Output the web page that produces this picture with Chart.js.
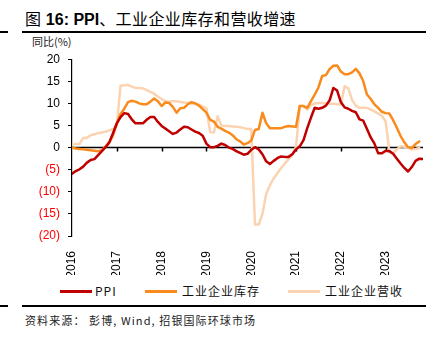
<!DOCTYPE html>
<html>
<head>
<meta charset="utf-8">
<script src="https://cdn.jsdelivr.net/npm/chart.js@4.4.0/dist/chart.umd.min.js"></script>
<style>
 body { margin: 0; width: 443px; height: 345px; background: #fff; position: relative; overflow: hidden;
  font-family: "Liberation Sans", "Noto Sans CJK SC", sans-serif; }
 .title { position: absolute; left: 25px; top: 6px; font-size: 16px; color: #000; white-space: nowrap; }
 .title b { font-family: "Liberation Sans", sans-serif; font-weight: bold; }
 .title span { font-family: "Noto Sans CJK SC", sans-serif; font-weight: 400; letter-spacing: 0.4px; }
 .rule { position: absolute; height: 2px; background: #000; }
 .unit { position: absolute; left: 32px; top: 33px; font-size: 11px; color: #222; font-family: "Noto Sans CJK SC", sans-serif; }
 .legend { position: absolute; top: 282px; left: 0; height: 18px; font-size: 12px; color: #111;
  font-family: "Noto Sans CJK SC", serif; letter-spacing: 1px; }
 .legend .item { position: absolute; top: 0; white-space: nowrap; }
 .legend i { position: absolute; top: 8px; width: 32px; height: 3px; }
 .legend em { position: absolute; top: 0; font-style: normal; }
 .source { position: absolute; left: 25px; top: 312px; font-size: 11px; color: #222; white-space: nowrap;
  font-family: "Noto Sans CJK SC", sans-serif; letter-spacing: 1.1px; }
 #wrap { position: absolute; left: 0; top: 44px; width: 443px; height: 231px; }
</style>
</head>
<body>
<div class="title"><span>图</span> <b>16: PPI</b><span>、工业企业库存和营收增速</span></div>
<div class="rule" style="left:22px;width:404px;top:31px"></div>
<div class="rule" style="left:0;width:8px;top:31px"></div>
<div class="unit">同比(%)</div>
<div id="wrap"><canvas id="chart"></canvas></div>
<div class="legend">
 <div class="item" style="left:60px"><i style="background:#C00000"></i><em style="left:35px">PPI</em></div>
 <div class="item" style="left:145px"><i style="background:#F98A1C"></i><em style="left:37px">工业企业库存</em></div>
 <div class="item" style="left:288px"><i style="background:#FBD3B1"></i><em style="left:37px">工业企业营收</em></div>
</div>
<div class="rule" style="left:22px;width:404px;top:305px"></div>
<div class="rule" style="left:0;width:8px;top:305px"></div>
<div class="source">资料来源： 彭博, Wind, 招银国际环球市场</div>

<script>
// month-end points, Dec 2015 .. Oct 2023
var startYear = 2015, startMonth = 12, monthCount = 95;

var ppi = [
 -5.9,
 -5.3, -4.9, -4.3, -3.4, -2.8, -2.6, -1.7, -0.8, 0.1, 1.2, 3.3, 5.5,
 6.9, 7.8, 7.6, 6.4, 5.5, 5.5, 5.5, 6.3, 6.9, 6.9, 5.8, 4.9,
 4.3, 3.7, 3.1, 3.4, 4.1, 4.7, 4.6, 4.1, 3.6, 3.3, 2.7, 0.9,
 0.1, 0.1, 0.4, 0.9, 0.6, 0.0, -0.3, -0.8, -1.2, -1.6, -1.4, -0.5,
 0.1, -0.4, -1.5, -3.1, -3.7, -3.0, -2.4, -2.0, -2.1, -2.1, -1.5, -0.4,
 0.3, 1.7, 4.4, 6.8, 9.0, 8.8, 9.0, 9.5, 10.7, 13.5, 12.9, 10.3,
 9.1, 8.8, 8.3, 8.0, 6.4, 6.1, 4.2, 2.3, 0.9, -1.3, -1.3, -0.7,
 -0.8, -1.4, -2.5, -3.6, -4.6, -5.4, -4.4, -3.0, -2.5, -2.6
];

var inventory = [
 0.0,
 -0.2, -0.3, -0.4, -0.5, -0.6, -0.7, -0.8, -0.6, 0.3, 1.2, 2.8, 5.5,
 7.6, 8.8, 10.3, 10.6, 10.4, 10.0, 9.8, 9.8, 10.4, 11.1, 10.5, 9.4,
 10.2, 10.1, 9.2, 7.9, 8.9, 9.0, 9.8, 10.3, 10.0, 9.5, 8.7, 7.9,
 6.3, 5.9, 4.7, 4.3, 3.8, 3.4, 2.8, 1.9, 1.4, 0.7, 1.0, 1.6,
 4.0, 4.2, 7.9, 5.5, 4.4, 4.4, 4.4, 4.4, 4.7, 4.9, 4.8, 4.7,
 9.4, 9.4, 9.0, 10.5, 12.0, 13.6, 16.2, 16.4, 17.8, 18.5, 18.6, 17.2,
 16.6, 16.6, 17.0, 17.8, 16.8, 15.0, 12.0, 11.0, 9.8, 9.0, 8.1, 7.8,
 7.7, 6.2, 4.5, 2.6, 1.2, 0.1, -0.1, 0.8, 1.4, null
];

var revenue = [
 0.7,
 0.8, 0.8, 2.2, 2.2, 2.8, 3.0, 3.3, 3.4, 3.6, 3.9, 4.2, 4.9,
 14.0, 14.1, 14.2, 13.8, 13.5, 13.5, 13.4, 13.0, 12.6, 12.2, 11.5, 11.0,
 10.5, 10.4, 10.5, 10.5, 10.3, 10.2, 10.1, 10.0, 9.9, 9.7, 9.3, 8.9,
 3.5, 3.4, 7.1, 5.0, 4.9, 4.9, 4.8, 4.7, 4.6, 4.4, 4.2, 4.2,
 -17.4, -17.4, -15.0, -10.5, -8.5, -7.0, -5.8, -4.6, -3.6, -2.6, -1.6, 0.2,
 9.4, 9.4, 8.6, 9.6, 10.0, 10.1, 10.1, 10.0, 9.9, 9.9, 9.8, 9.7,
 13.9, 13.4, 10.8, 9.5, 9.0, 9.0, 9.0, 8.6, 8.2, 7.7, 7.2, 5.9,
 -1.0, -1.3, -0.4, 0.3, 0.2, 0.0, -0.4, -0.3, -0.1, null
];

var yTicks = [-20, -15, -10, -5, 0, 5, 10, 15, 20];

// x position of each month-end as a fractional year
var monthPos = [];
for (var i = 0; i < monthCount; i++) {
 var m = startMonth + i;
 monthPos.push(startYear + m / 12);
}

function toPoints(values) {
 return values.map(function (v, i) {
  return { x: monthPos[i], y: v };
 });
}

var zeroLine = {
 id: "zeroLine",
 beforeDatasetsDraw: function (chart) {
  var ctx = chart.ctx;
  var x = chart.scales.x;
  var y = chart.scales.y;
  var y0 = y.getPixelForValue(0);
  ctx.save();
  ctx.strokeStyle = "#000";
  ctx.lineWidth = 1.5;
  ctx.beginPath();
  ctx.moveTo(chart.chartArea.left, y0);
  ctx.lineTo(chart.chartArea.right, y0);
  for (var yr = 2017; yr <= 2023; yr++) {
   var px = Math.round(x.getPixelForValue(yr)) + 0.5;
   ctx.moveTo(px, y0);
   ctx.lineTo(px, y0 + 4);
  }
  ctx.stroke();
  ctx.restore();
 },
};

new Chart(document.getElementById("chart"), {
 type: "line",
 data: {
  datasets: [
   { label: "PPI", data: toPoints(ppi), borderColor: "#C00000", borderWidth: 2.5, pointRadius: 0, order: 1 },
   { label: "工业企业库存", data: toPoints(inventory), borderColor: "#F98A1C", borderWidth: 2.5, pointRadius: 0, order: 2 },
   { label: "工业企业营收", data: toPoints(revenue), borderColor: "#FBD3B1", borderWidth: 2.5, pointRadius: 0, order: 3 },
  ],
 },
 options: {
  responsive: true,
  maintainAspectRatio: false,
  animation: false,
  layout: { padding: { top: 2, right: 20, left: 0, bottom: 0 } },
  plugins: { legend: { display: false }, tooltip: { enabled: false } },
  elements: { line: { tension: 0, borderJoinStyle: "round", borderCapStyle: "round" } },
  scales: {
   x: {
    type: "linear",
    min: 2016,
    max: monthPos[monthPos.length - 1],
    grid: { display: false },
    border: { display: false },
    afterBuildTicks: function (scale) {
     var t = [];
     for (var yr = 2016; yr <= 2023; yr++) t.push({ value: yr });
     scale.ticks = t;
    },
    afterFit: function (scale) {
     scale.height = 39;
    },
    ticks: {
     autoSkip: false,
     minRotation: 90,
     maxRotation: 90,
     padding: 7,
     color: "#000",
     font: { family: "Liberation Sans", size: 12 },
     callback: function (v) {
      return String(v);
     },
    },
   },
   y: {
    min: -20,
    max: 20,
    afterBuildTicks: function (scale) {
     scale.ticks = yTicks.map(function (v) {
      return { value: v };
     });
    },
    afterFit: function (scale) {
     scale.width = 72;
    },
    border: { display: true, color: "#000", width: 1.2 },
    grid: {
     drawOnChartArea: false,
     drawTicks: true,
     tickLength: 4,
     tickColor: "#000",
    },
    ticks: {
     padding: 8,
     font: { family: "Liberation Sans", size: 12 },
     color: function (c) {
      return c.tick.value < 0 ? "#FF0000" : "#000";
     },
     callback: function (v) {
      return v < 0 ? "(" + Math.abs(v) + ")" : String(v);
     },
    },
   },
  },
 },
 plugins: [zeroLine],
});
</script>
</body>
</html>
